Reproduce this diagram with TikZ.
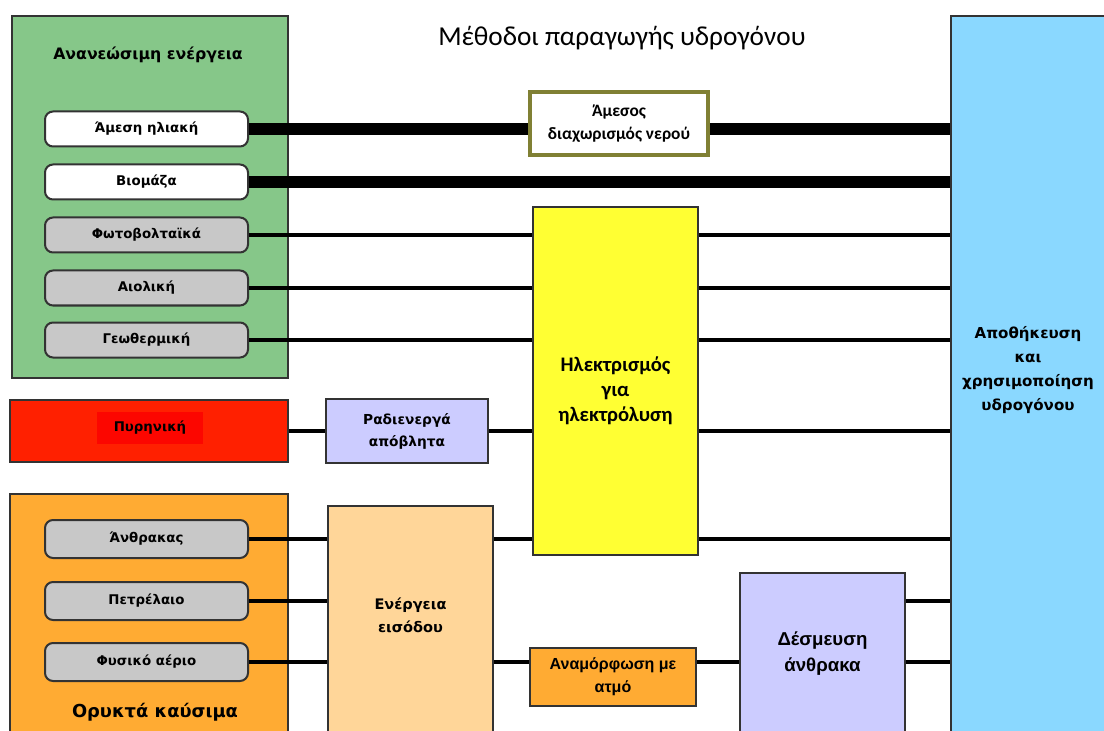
\documentclass[tikz,border=0pt]{standalone}
\usepackage{fontspec}
\setmainfont{DejaVu Sans}
\newfontfamily\carlito{Carlito}
\newfontfamily\libsans{Liberation Sans}
\usepackage{tikz}
\usetikzlibrary{positioning,calc}
\usepackage{xcolor}
\definecolor{greenbg}{RGB}{134,199,137}
\definecolor{srcgray}{RGB}{200,200,200}
\definecolor{nucred}{RGB}{255,32,0}
\definecolor{nucinner}{RGB}{252,6,0}
\definecolor{lavbox}{RGB}{204,204,255}
\definecolor{fossilor}{RGB}{255,171,51}
\definecolor{inpeach}{RGB}{255,214,153}
\definecolor{elecyel}{RGB}{255,255,51}
\definecolor{storeblue}{RGB}{138,216,255}
\definecolor{olivebd}{RGB}{128,128,52}
\newcommand{\pxu}{0.75pt}

\begin{document}
\begin{tikzpicture}[x=0.75pt,y=-0.75pt,
    frame/.style={draw=black!80,line width=1.5pt,inner sep=0pt},
    srcbox/.style={frame,rounded corners=6pt,minimum width=203*\pxu,minimum height=35*\pxu,
        font=\bfseries\fontsize{10}{12}\selectfont},
    wire/.style={line width=3pt},
    fatwire/.style={line width=9.5pt}]
    \useasboundingbox (0,0) rectangle (1104,731);

    \node[font=\carlito\fontsize{20.5}{24}\selectfont] (title) at (622,38) {Μέθοδοι παραγωγής υδρογόνου};

    \node[frame,fill=greenbg,minimum width=276*\pxu,minimum height=362*\pxu] (renew) at (150,197) {};
    \node[font=\bfseries\fontsize{11.8}{14}\selectfont] (renewlbl) at (148,55) {Ανανεώσιμη ενέργεια};
    \node[srcbox,fill=white] (solar) at (146.5,129) {Άμεση ηλιακή};
    \node[srcbox,fill=white] (bio) at (146.5,182) {Βιομάζα};
    \node[srcbox,fill=srcgray] (pv) at (146.5,235) {Φωτοβολταϊκά};
    \node[srcbox,fill=srcgray] (wind) at (146.5,288) {Αιολική};
    \node[srcbox,fill=srcgray] (geo) at (146.5,340) {Γεωθερμική};

    \node[frame,fill=nucred,minimum width=278*\pxu,minimum height=62*\pxu] (nuclear) at (149,431) {};
    \node[fill=nucinner,minimum width=106*\pxu,minimum height=32*\pxu,
        font=\bfseries\fontsize{10}{12}\selectfont] (nuclbl) at (150,428) {Πυρηνική};
    \node[frame,fill=lavbox,minimum width=162*\pxu,minimum height=64*\pxu,align=center,
        font=\bfseries\fontsize{10.3}{16.5}\selectfont] (waste) at (407,431) {Ραδιενεργά\\απόβλητα};

    \node[frame,fill=fossilor,minimum width=278*\pxu,minimum height=250*\pxu] (fossil) at (149,619) {};
    \node[font=\bfseries\fontsize{13.4}{16}\selectfont] (fossillbl) at (155,712) {Ορυκτά καύσιμα};
    \node[srcbox,fill=srcgray,minimum height=38*\pxu] (coal) at (146.5,539) {Άνθρακας};
    \node[srcbox,fill=srcgray,minimum height=38*\pxu] (oil) at (146.5,601) {Πετρέλαιο};
    \node[srcbox,fill=srcgray,minimum height=38*\pxu] (gas) at (146.5,662) {Φυσικό αέριο};

    \node[frame,fill=inpeach,minimum width=165*\pxu,minimum height=229*\pxu,
        label={[align=center,yshift=5*\pxu,font=\bfseries\fontsize{10.9}{17}\selectfont]center:Ενέργεια\\εισόδου}]
        (input) at (410.5,620.5) {};
    \node[frame,fill=elecyel,minimum width=165*\pxu,minimum height=348*\pxu,
        label={[align=center,yshift=-10*\pxu,font=\carlito\bfseries\fontsize{15.5}{18.8}\selectfont]center:Ηλεκτρισμός\\για\\ηλεκτρόλυση}]
        (elec) at (615.5,381) {};
    \node[frame,fill=fossilor,minimum width=166*\pxu,minimum height=58*\pxu,align=center,
        font=\libsans\bfseries\fontsize{12}{17}\selectfont] (reform) at (613,677) {Αναμόρφωση με\\ατμό};
    \node[frame,fill=lavbox,minimum width=165*\pxu,minimum height=162*\pxu,align=center,
        font=\libsans\bfseries\fontsize{14}{19.5}\selectfont] (capture) at (822.5,654) {Δέσμευση\\άνθρακα};
    \node[frame,fill=storeblue,minimum width=158*\pxu,minimum height=724*\pxu,
        label={[align=center,xshift=-2*\pxu,yshift=8*\pxu,font=\bfseries\fontsize{11.3}{18}\selectfont]center:Αποθήκευση\\και\\χρησιμοποίηση\\υδρογόνου}]
        (store) at (1030,378) {};

    \draw[fatwire] (solar.east) -- (solar.east -| store.west);
    \draw[fatwire] (bio.east) -- (bio.east -| store.west);
    \foreach \src in {pv,wind,geo}{
        \draw[wire] (\src.east) -- (\src.east -| elec.west);
        \draw[wire] (\src.east -| elec.east) -- (\src.east -| store.west);
    }
    \draw[wire] (nuclear.east) -- (waste.west);
    \draw[wire] (waste.east) -- (waste.east -| elec.west);
    \draw[wire] (waste.east -| elec.east) -- (waste.east -| store.west);
    \foreach \src in {coal,oil,gas}
        \draw[wire] (\src.east) -- (\src.east -| input.west);
    \draw[wire] (input.east |- coal) -- (elec.west |- coal);
    \draw[wire] (elec.east |- coal) -- (store.west |- coal);
    \draw[wire] (input.east |- gas) -- (reform.west |- gas);
    \draw[wire] (reform.east |- gas) -- (capture.west |- gas);
    \draw[wire] (capture.east |- gas) -- (store.west |- gas);
    \draw[wire] (capture.east |- oil) -- (store.west |- oil);

    \node[draw=olivebd,line width=2.5pt,fill=white,minimum width=178*\pxu,minimum height=63*\pxu,align=center,
        font=\carlito\bfseries\fontsize{13}{17}\selectfont] (direct) at (619,123.5) {Άμεσος\\διαχωρισμός νερού};
\end{tikzpicture}
\end{document}
